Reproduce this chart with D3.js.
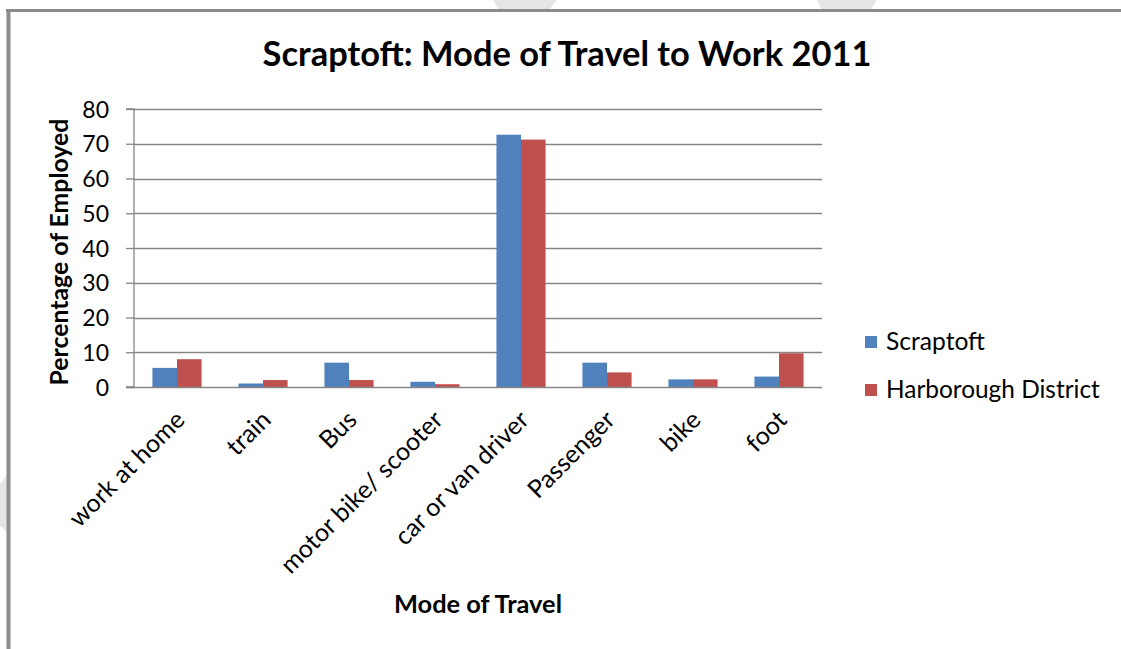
<!DOCTYPE html>
<html>
<head>
<meta charset="utf-8">
<script src="https://cdn.jsdelivr.net/npm/d3@7"></script>
<style>
  html, body { margin: 0; padding: 0; background: #fff; }
  svg { display: block; }
  text { font-family: Lato, "Open Sans", sans-serif; fill: #000; }
</style>
</head>
<body>
<svg id="chart" width="1121" height="649"></svg>
<script>
const categories = ["work at home", "train", "Bus", "motor bike/ scooter", "car or van driver", "Passenger", "bike", "foot"];
const seriesNames = ["Scraptoft", "Harborough District"];
const scraptoft = [5.5, 1.0, 7.0, 1.5, 72.6, 7.0, 2.2, 3.0];
const harborough = [8.0, 2.0, 2.0, 0.8, 71.2, 4.2, 2.2, 9.7];
const yTicks = [0, 10, 20, 30, 40, 50, 60, 70, 80];
const colors = ["#4f81bd", "#c0504d"];

const svg = d3.select("#chart");

function fit(t, w) { const l = t.node().getComputedTextLength(); const fs = +t.attr("font-size"); t.attr("font-size", fs * w / l); }

// watermark fragments
const wm = svg.append("g").attr("fill", "#e6e6e6");
wm.append("polygon").attr("points", "493,0 557,0 549,10 499,10");
wm.append("polygon").attr("points", "817,0 877,0 870,10 822,10");
wm.append("polygon").attr("points", "0,484 7,474 7,532 0,526");

// outer frame (top and left)
svg.append("line").attr("x1", 6).attr("x2", 1121).attr("y1", 10.5).attr("y2", 10.5)
  .attr("stroke", "#8c8c8c").attr("stroke-width", 3);
svg.append("line").attr("x1", 8.5).attr("x2", 8.5).attr("y1", 9).attr("y2", 649)
  .attr("stroke", "#8c8c8c").attr("stroke-width", 4);

const plot = { left: 134, right: 822, top: 109, bottom: 387 };

const x = d3.scaleBand().domain(categories).range([plot.left, plot.right]).paddingInner(0).paddingOuter(0);
const y = d3.scaleLinear().domain([0, 80]).range([plot.bottom, plot.top]);

// gridlines
svg.append("g").selectAll("line").data(yTicks.filter(d => d > 0)).join("line")
  .attr("x1", plot.left).attr("x2", plot.right)
  .attr("y1", d => Math.round(y(d)) + 0.5).attr("y2", d => Math.round(y(d)) + 0.5)
  .attr("stroke", "#868686").attr("stroke-width", 1.3);

// bars
const groupW = x.bandwidth();
const barW = groupW / 3.5;
const series = [scraptoft, harborough];
series.forEach((vals, si) => {
  svg.append("g").selectAll("rect").data(vals).join("rect")
    .attr("x", (d, i) => x(categories[i]) + groupW / 2 - barW + si * barW)
    .attr("width", barW)
    .attr("y", d => y(d))
    .attr("height", d => y(0) - y(d))
    .attr("fill", colors[si]);
});

// y axis
const yAxis = d3.axisLeft(y).tickValues(yTicks).tickSize(8).tickPadding(17);
const yg = svg.append("g").attr("transform", `translate(${plot.left},0)`).call(yAxis);
yg.select(".domain").attr("stroke", "#868686").attr("stroke-width", 1.3).attr("d", `M-8,${plot.top}H0V${plot.bottom}H-8`);
yg.selectAll(".tick line").attr("stroke", "#868686").attr("stroke-width", 1.3);
yg.selectAll(".tick text").attr("font-size", 23).attr("font-family", "Lato, sans-serif").attr("fill", "#000").attr("dy", "0.35em");

// x axis baseline
const xAxis = d3.axisBottom(x).tickSize(0).tickPadding(0);
const xg = svg.append("g").attr("transform", `translate(0,${plot.bottom})`).call(xAxis);
xg.select(".domain").attr("stroke", "#868686").attr("stroke-width", 1.3).attr("d", `M${plot.left - 8},0.5H${plot.right}`);
xg.selectAll(".tick text")
  .attr("font-size", 25).attr("font-family", "Lato, sans-serif").attr("fill", "#000")
  .attr("text-anchor", "end")
  .attr("transform", "translate(-3,22) rotate(-45)")
  .attr("dy", "0.7em");

// title
const title = svg.append("text").attr("x", 567).attr("y", 66).attr("text-anchor", "middle")
  .attr("font-size", 31).attr("font-weight", "bold").text("Scraptoft: Mode of Travel to Work 2011");
fit(title, 609);

// y axis title
const yt = svg.append("text").attr("transform", "translate(68,252) rotate(-90)").attr("text-anchor", "middle")
  .attr("font-size", 20).attr("font-weight", "bold").text("Percentage of Employed");
fit(yt, 267);

// x axis title
const xt = svg.append("text").attr("x", 478).attr("y", 613).attr("text-anchor", "middle")
  .attr("font-size", 20).attr("font-weight", "bold").text("Mode of Travel");
fit(xt, 168);

// legend
const lg = svg.append("g").attr("transform", "translate(865,336)");
seriesNames.forEach((name, i) => {
  lg.append("rect").attr("x", 0).attr("y", i * 48).attr("width", 12).attr("height", 12).attr("fill", colors[i]);
  const t = lg.append("text").attr("x", 21).attr("y", i * 48 + 14).attr("font-size", 24).text(name);
  if (i === 0) fit(t, 99); else fit(t, 214);
});
</script>
</body>
</html>
